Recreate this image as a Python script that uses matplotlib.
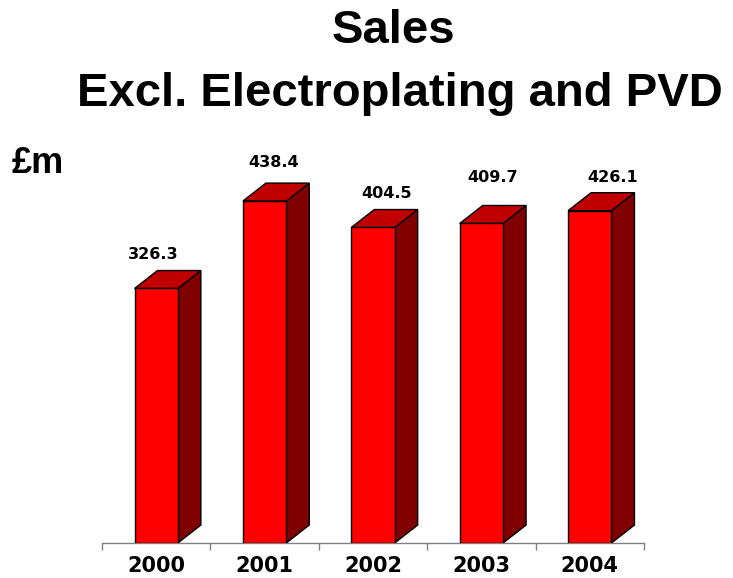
import matplotlib
matplotlib.use("Agg")
import matplotlib.pyplot as plt
from matplotlib.patches import Polygon

years = ["2000", "2001", "2002", "2003", "2004"]
sales = [326.3, 438.4, 404.5, 409.7, 426.1]
label_offsets = [(-2.3, 11.9), (6.8, 14.8), (10.1, 11.5), (8.4, 20.5), (16.7, 10.6)]  # points, styling only

W, H = 733, 578
fig = plt.figure(figsize=(W / 100, H / 100), dpi=100)
ax = fig.add_axes([102 / W, (H - 543) / H, (644 - 102) / W, 390 / H])
ax.set_xlim(-0.5, len(years) - 0.5)
ax.set_ylim(0, 500)

bw = 0.4
dx = 0.212
dy = 23.0
front_c = "#FF0000"
top_c = "#C00000"
side_c = "#800000"
for i, v in enumerate(sales):
    x0, x1 = i - bw / 2, i + bw / 2
    front = Polygon([(x0, 0), (x1, 0), (x1, v), (x0, v)], closed=True,
                    facecolor=front_c, edgecolor="black", lw=1.0, zorder=3)
    top = Polygon([(x0, v), (x1, v), (x1 + dx, v + dy), (x0 + dx, v + dy)], closed=True,
                  facecolor=top_c, edgecolor="black", lw=1.0, zorder=3)
    side = Polygon([(x1, 0), (x1 + dx, dy), (x1 + dx, v + dy), (x1, v)], closed=True,
                   facecolor=side_c, edgecolor="black", lw=1.0, zorder=3)
    for p in (side, top, front):
        ax.add_patch(p)
    ox, oy = label_offsets[i]
    ax.annotate(f"{v:.1f}", xy=(i, v + dy), xytext=(ox, oy), textcoords="offset points",
                ha="center", va="center", fontsize=11.5, fontweight="bold",
                family="DejaVu Sans", color="black")

for s in ("top", "right", "left"):
    ax.spines[s].set_visible(False)
ax.spines["bottom"].set_color("#808080")
ax.spines["bottom"].set_linewidth(1.0)
ax.set_yticks([])
ax.set_xticks(range(len(years)))
ax.set_xticklabels(years, fontsize=15, fontweight="bold", family="DejaVu Sans")
ax.tick_params(axis="x", which="major", length=0, pad=9)
ax.set_xticks([i - 0.5 for i in range(len(years) + 1)], minor=True)
ax.tick_params(axis="x", which="minor", length=5, color="#808080", width=1.0, direction="out")
ax.patch.set_alpha(0)

fig.text(393.5 / W, 1 - 43 / H, "Sales", ha="center", va="baseline",
         fontsize=34, fontweight="bold", family="Liberation Sans")
fig.text(399.5 / W, 1 - 105.5 / H, "Excl. Electroplating and PVD", ha="center", va="baseline",
         fontsize=34, fontweight="bold", family="Liberation Sans")
fig.text(12 / W, 1 - 173 / H, "£m", ha="left", va="baseline",
         fontsize=26, fontweight="bold", family="Liberation Sans")

fig.savefig("out.png", dpi=100)
